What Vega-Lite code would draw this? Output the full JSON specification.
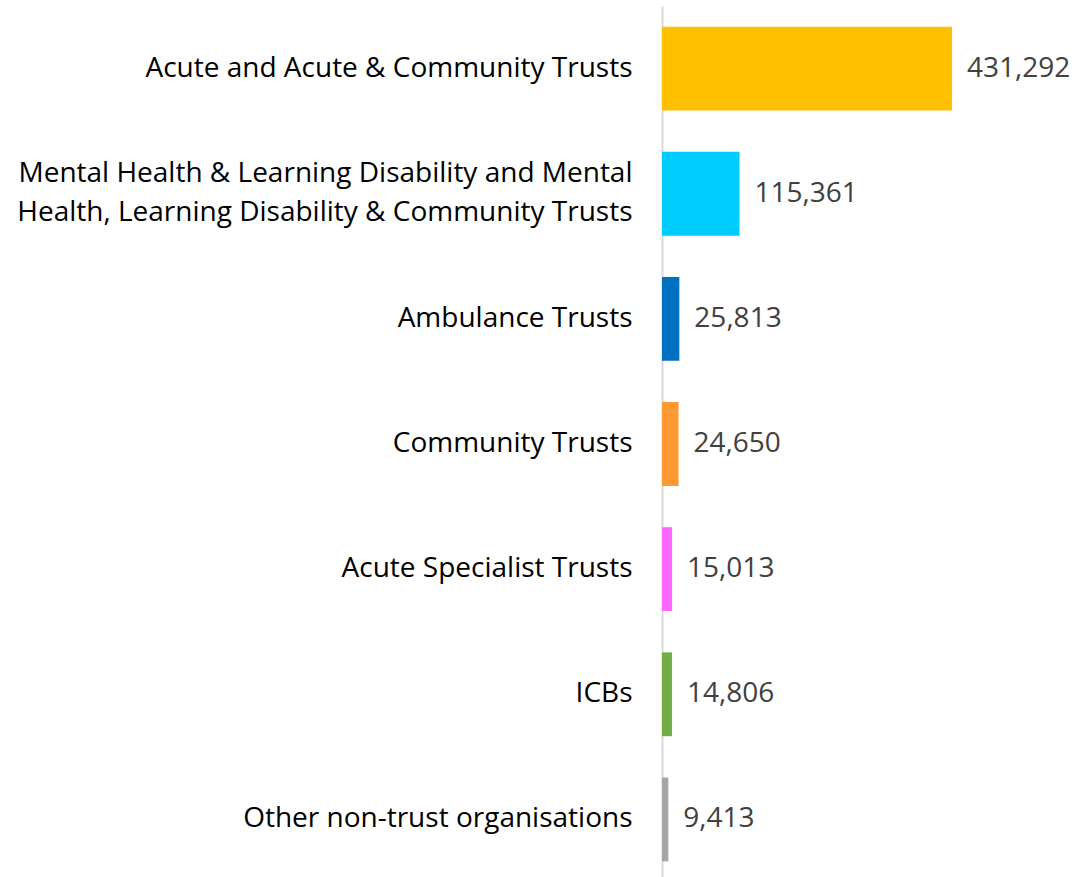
{
  "$schema": "https://vega.github.io/schema/vega-lite/v6.json",
  "autosize": "none",
  "padding": {"left": 662, "top": 6, "right": 127, "bottom": 0},
  "width": 290,
  "height": 876,
  "config": {"view": {"stroke": null}, "font": "Open Sans"},
  "data": {
    "values": [
      {"org": "Acute and Acute & Community Trusts", "value": 431292, "color": "#FFC000"},
      {"org": "Mental Health & Learning Disability and Mental|Health, Learning Disability & Community Trusts", "value": 115361, "color": "#00CCFF"},
      {"org": "Ambulance Trusts", "value": 25813, "color": "#0070C0"},
      {"org": "Community Trusts", "value": 24650, "color": "#FF9933"},
      {"org": "Acute Specialist Trusts", "value": 15013, "color": "#FF66FF"},
      {"org": "ICBs", "value": 14806, "color": "#70AD47"},
      {"org": "Other non-trust organisations", "value": 9413, "color": "#A6A6A6"}
    ]
  },
  "encoding": {
    "y": {
      "field": "org",
      "type": "nominal",
      "sort": null,
      "scale": {"paddingInner": 0.33, "paddingOuter": 0.165},
      "axis": {
        "title": null,
        "ticks": false,
        "labelPadding": 30,
        "labelFont": "Open Sans",
        "labelFontSize": 28,
        "labelColor": "#000000",
        "labelLimit": 700,
        "labelLineHeight": 39,
        "labelOffset": {"condition": {"test": "indexof(datum.value, '|') >= 0", "value": -19.5}, "value": 0},
        "labelExpr": "split(datum.label, '|')",
        "domainColor": "#D9D9D9",
        "domainWidth": 2
      }
    },
    "x": {
      "field": "value",
      "type": "quantitative",
      "scale": {"domain": [0, 431292], "nice": false, "zero": true},
      "axis": null
    }
  },
  "layer": [
    {
      "mark": {"type": "bar"},
      "encoding": {
        "color": {"field": "color", "type": "nominal", "scale": null}
      }
    },
    {
      "mark": {"type": "text", "align": "left", "baseline": "middle", "dx": 15, "font": "Open Sans", "fontSize": 28, "color": "#404040"},
      "encoding": {
        "text": {"field": "value", "type": "quantitative", "format": ","}
      }
    }
  ]
}
